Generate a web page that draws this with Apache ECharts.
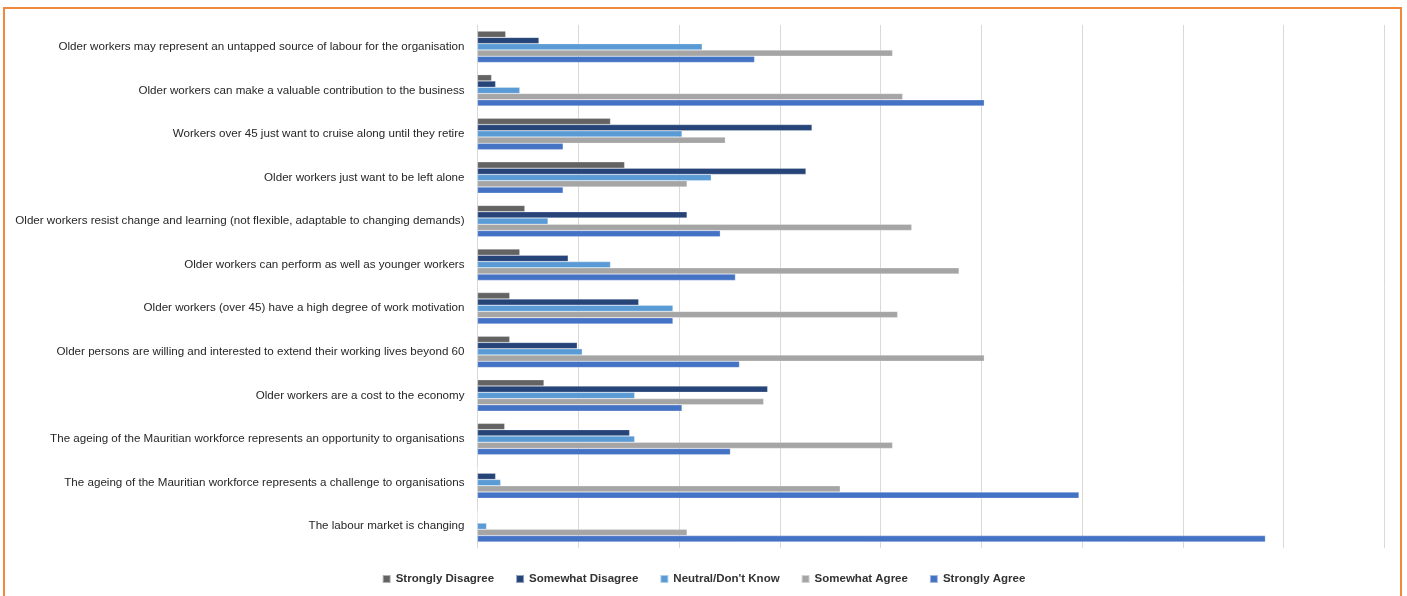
<!DOCTYPE html>
<html>
<head>
<meta charset="utf-8">
<script src="https://cdn.jsdelivr.net/npm/echarts@6/dist/echarts.min.js"></script>
<style>
  html, body { margin: 0; padding: 0; background: #fff; }
  #chart { width: 1407px; height: 596px; }
</style>
</head>
<body>
<div id="chart"></div>
<script>
// categories, top to bottom
var categories = [
  'Older workers may represent an untapped source of labour for the organisation',
  'Older workers can make a valuable contribution to the business',
  'Workers over 45 just want to cruise along until they retire',
  'Older workers just want to be left alone',
  'Older workers resist change and learning (not flexible, adaptable to changing demands)',
  'Older workers can perform as well as younger workers',
  'Older workers (over 45) have a high degree of work motivation',
  'Older persons are willing and interested to extend their working lives beyond 60',
  'Older workers are a cost to the economy',
  'The ageing of the Mauritian workforce represents an opportunity to organisations',
  'The ageing of the Mauritian workforce represents a challenge to organisations',
  'The labour market is changing'
];

var stronglyDisagree = [2.8, 1.4, 13.2, 14.6, 4.7, 4.2, 3.2, 3.2, 6.6, 2.7, 0, 0];
var somewhatDisagree = [6.1, 1.8, 33.2, 32.6, 20.8, 9.0, 16.0, 9.9, 28.8, 15.1, 1.8, 0];
var neutral = [22.3, 4.2, 20.3, 23.2, 7.0, 13.2, 19.4, 10.4, 15.6, 15.6, 2.3, 0.9];
var somewhatAgree = [41.2, 42.2, 24.6, 20.8, 43.1, 47.8, 41.7, 50.3, 28.4, 41.2, 36.0, 20.8];
var stronglyAgree = [27.5, 50.3, 8.5, 8.5, 24.1, 25.6, 19.4, 26.0, 20.3, 25.1, 59.7, 78.2];

var seriesNames = ['Strongly Disagree', 'Somewhat Disagree', "Neutral/Don't Know", 'Somewhat Agree', 'Strongly Agree'];
var seriesData = [stronglyDisagree, somewhatDisagree, neutral, somewhatAgree, stronglyAgree];

var myChart = echarts.init(document.getElementById('chart'));

var font = '"Liberation Sans Narrow", "Arial Narrow", "Liberation Sans", Arial, sans-serif';

option = {
  animation: false,
  color: ['#636363', '#264478', '#5b9bd5', '#a5a5a5', '#4472c4'],
  graphic: [{
    type: 'rect',
    shape: { x: 4, y: 8, width: 1397, height: 620 },
    style: { fill: 'none', stroke: '#f0883e', lineWidth: 2 },
    silent: true
  }],
  grid: {
    left: 477.5,
    right: 22.7,
    top: 25,
    bottom: 48,
    containLabel: false,
    outerBoundsMode: 'none'
  },
  legend: {
    bottom: 6,
    left: 'center',
    icon: 'rect',
    itemWidth: 8,
    itemHeight: 8,
    itemGap: 21,
    textStyle: {
      fontFamily: font,
      fontWeight: 'bold',
      fontSize: 11.5,
      color: '#333'
    },
    data: seriesNames
  },
  xAxis: {
    type: 'value',
    min: 0,
    max: 90,
    interval: 10,
    axisLabel: { show: false },
    axisLine: { show: false },
    axisTick: { show: false },
    splitLine: { lineStyle: { color: '#d9d9d9', width: 1 } }
  },
  yAxis: {
    type: 'category',
    inverse: true,
    data: categories,
    axisLine: { show: true, lineStyle: { color: '#d9d9d9' } },
    axisTick: { show: false },
    axisLabel: {
      margin: 13,
      fontFamily: font,
      fontSize: 11.6,
      color: '#262626'
    }
  },
  series: seriesNames.map(function (name, i) {
    return {
      name: name,
      type: 'bar',
      barGap: '0%',
      barCategoryGap: '28%',
      itemStyle: { borderColor: 'rgba(255,255,255,0.5)', borderWidth: 0.5 },
      data: seriesData[i]
    };
  })
};

myChart.setOption(option);
</script>
</body>
</html>
